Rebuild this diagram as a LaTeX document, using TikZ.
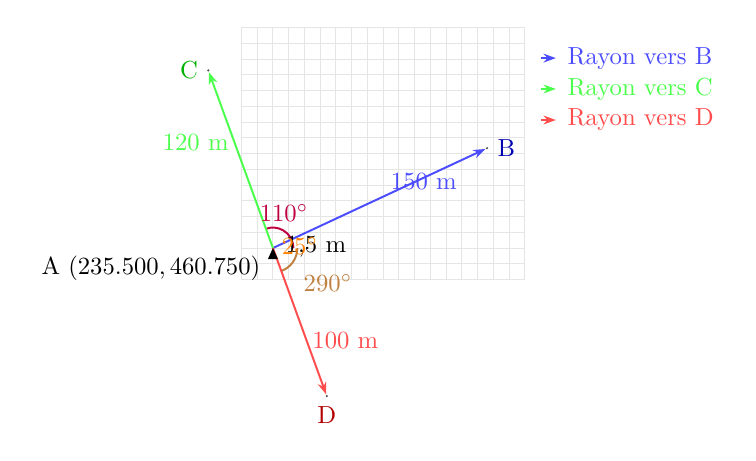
\documentclass[tikz,border=0pt]{standalone}
\usetikzlibrary{arrows.meta}

\tikzset{
	gridline/.style={black!10, line width=0.4pt},
	ray/.style={thick, -{Stealth[length=5pt, width=3.6pt]}},
	target/.style={circle, fill=black!70, inner sep=0.3pt},
	anglearc/.style={thick},
	legend/.style={anchor=west},
}

\begin{document}
\begin{tikzpicture}[x=0.638pt, y=0.638pt]
	\useasboundingbox (-173.3,-134.6) rectangle (306.7,157.5);
	% Grid
	\draw[gridline] (-20,-20) grid[step=10] (160,140);
	
	% Station and targets
	\coordinate (A) at (0,0);
	\node[target, label={[text=blue!70!black]right:B}] (B) at (25:150) {};
	\node[target, label={[text=green!70!black]left:C}] (C) at (110:120) {};
	\node[target, label={[text=red!70!black]below:D}] (D) at (290:100) {};
	
	% Angles
	\draw[anglearc, purple] (13,0) arc[start angle=0, end angle=110, radius=13];
	\draw[anglearc, brown] (15.5,0) arc[start angle=0, end angle=-70, radius=15.5];
	
	% Rays
	\draw[ray, blue!70] (A) -- node[pos=0.71, yshift=-1.6pt] {150 m} (B);
	\draw[ray, green!70] (A) -- node[pos=0.6, left, inner sep=2pt] {120 m} (C);
	\draw[ray, red!70] (A) -- node[pos=0.63, right, inner sep=2pt] {100 m} (D);
	
	% Station marker
	\fill (A) -- ++(-3.2,-7) -- ++(6.4,0) -- cycle;
	\node[anchor=east] (Alabel) at (-2.5,-12.7) {A $(235.500, 460.750)$};
	\node (height) at (27.3,0.6) {1,5 m};
	\node[text=purple] (a110) at (7,22.2) {$110^\circ$};
	\node[text=orange] (a25) at (17.1,1.3) {$25^\circ$};
	\node[text=brown] (a290) at (34.9,-22.2) {$290^\circ$};
	
	% Legend
	\node[legend, text=blue!70] (LB) at (181.5,120.6) {Rayon vers B};
	\node[legend, text=green!70] (LC) at (181.5,101) {Rayon vers C};
	\node[legend, text=red!70] (LD) at (181.5,81.3) {Rayon vers D};
	\draw[ray, blue!70] ([xshift=-7.3pt]LB.west) -- ([xshift=-1.2pt]LB.west);
	\draw[ray, green!70] ([xshift=-7.3pt]LC.west) -- ([xshift=-1.2pt]LC.west);
	\draw[ray, red!70] ([xshift=-7.3pt]LD.west) -- ([xshift=-1.2pt]LD.west);
\end{tikzpicture}
\end{document}
